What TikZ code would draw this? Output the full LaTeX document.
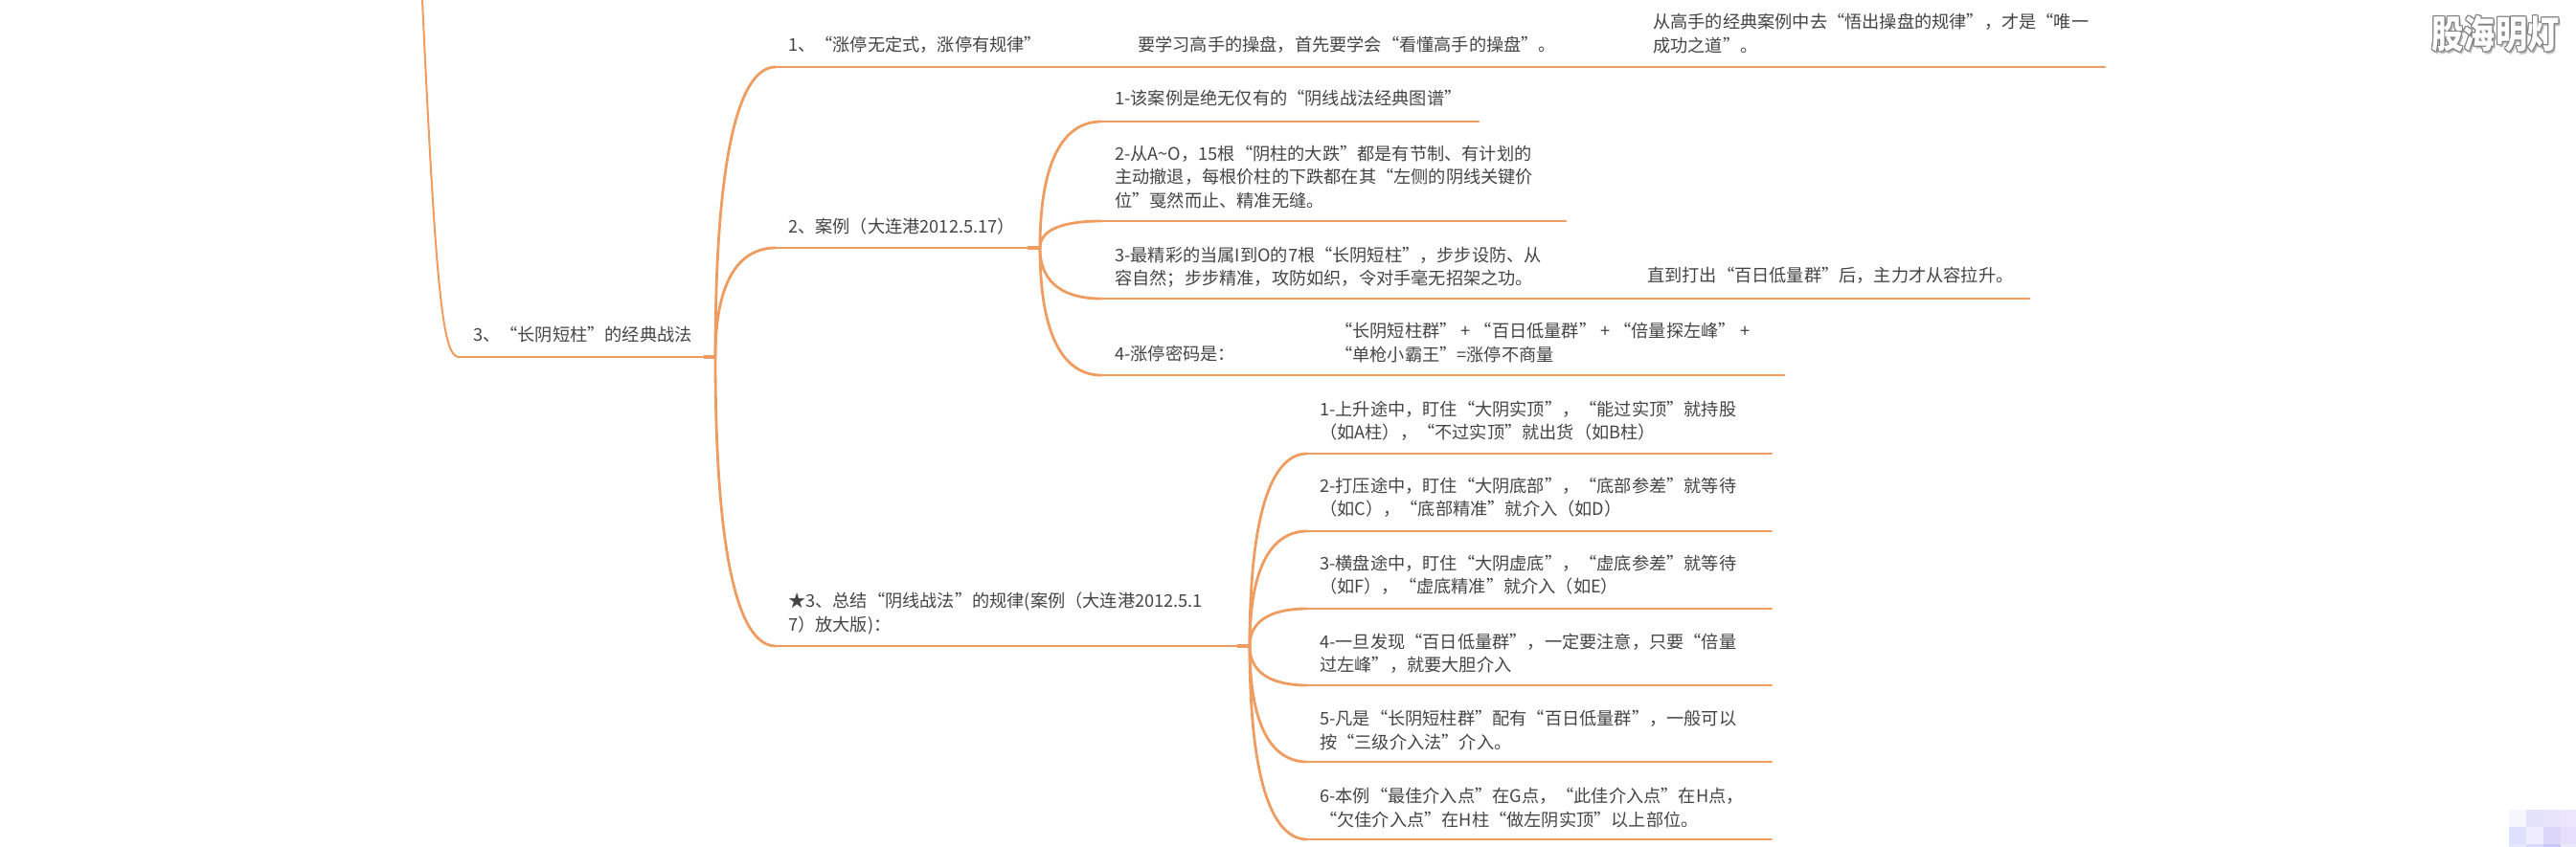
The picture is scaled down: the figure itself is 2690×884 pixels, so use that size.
\documentclass[tikz,border=0pt]{standalone}
\usepackage{fontspec}
\setmainfont{Noto Sans CJK SC}
\usetikzlibrary{calc}
\definecolor{branchcol}{HTML}{EE9C5F}
\definecolor{textcol}{HTML}{444444}
\tikzset{
  twig/.style={draw=branchcol,line width=2.8pt,line cap=round},
  twigcurve/.style={twig,to path={.. controls ($(\tikztostart)!.75!(\tikztostart|-\tikztotarget)$) and ($(\tikztotarget)!.55!(\tikztostart|-\tikztotarget)$) .. (\tikztotarget)}},
  twigtext/.style={anchor=west,inner sep=0pt,align=left,text=textcol,font=\fontsize{18.2}{24.2}\selectfont},
  stamp/.style={inner sep=0pt,xscale=.83,font=\fontsize{40}{40}\selectfont\bfseries}
}
\begin{document}
\begin{tikzpicture}[x=1pt,y=-1pt]
\useasboundingbox (0,0) rectangle (2690,884);
% points of the branches: start, end
\foreach \n/\xx/\yy in {top/441/0,rootA/479/373,rootB/747/373,
  aA/810/70,aB/2198/70,bA/810/259,bB/1086/259,cA/810/675,cB/1305/675,
  dA/1150/127,dB/1544/127,eA/1150/231,eB/1635/231,fA/1150/312,fB/2119/312,gA/1150/392,gB/1863/392,
  hA/1365/474,hB/1850/474,iA/1365/555,iB/1850/555,jA/1365/636,jB/1850/636,
  kA/1365/716,kB/1850/716,lA/1365/796,lB/1850/796,mA/1365/877,mB/1850/877}
  \coordinate (\n) at (\xx,\yy);
\draw[branchcol,line width=2pt] (top) .. controls (455,300) and (462,373) .. (rootA);
% straight part under each text
\foreach \p in {root,a,b,c,d,e,f,g,h,i,j,k,l,m}
  \draw[twig] (\p A) -- (\p B);
% curved part out of each fork
\foreach \f/\t in {rootB/aA,rootB/bA,rootB/cA,bB/dA,bB/eA,bB/fA,bB/gA,cB/hA,cB/iA,cB/jA,cB/kA,cB/lA,cB/mA}
  \draw[twigcurve] (\f) to (\t);
% short thick piece before each fork
\foreach \f/\d in {rootB/-12,bB/-13,cB/-13}
  \draw[branchcol,line width=4pt] (\f) -- ++(\d,0);
% texts
\foreach \n/\xx/\yy/\texto in {
  root/494/350/{3、“长阴短柱”的经典战法},
  one/823/47/{1、“涨停无定式，涨停有规律”},
  two/823/237/{2、案例（大连港2012.5.17）},
  three/823/641/{★3、总结“阴线战法”的规律(案例（大连港2012.5.1\\7）放大版)：},
  study/1188/47/{要学习高手的操盘，首先要学会“看懂高手的操盘”。},
  learn/1726/35/{从高手的经典案例中去“悟出操盘的规律”，才是“唯一\\成功之道”。},
  caseA/1164/103/{1-该案例是绝无仅有的“阴线战法经典图谱”},
  caseB/1164/185/{2-从A\string~O，15根“阴柱的大跌”都是有节制、有计划的\\主动撤退，每根价柱的下跌都在其“左侧的阴线关键价\\位”戛然而止、精准无缝。},
  caseC/1164/279/{3-最精彩的当属I到O的7根“长阴短柱”，步步设防、从\\容自然；步步精准，攻防如织，令对手毫无招架之功。},
  rise/1720/288/{直到打出“百日低量群”后，主力才从容拉升。},
  caseD/1164/369/{4-涨停密码是：},
  code/1394/358/{“长阴短柱群” + “百日低量群” + “倍量探左峰” +\\“单枪小霸王”=涨停不商量},
  ruleA/1378/440/{1-上升途中，盯住“大阴实顶”，“能过实顶”就持股\\（如A柱），“不过实顶”就出货（如B柱）},
  ruleB/1378/520/{2-打压途中，盯住“大阴底部”，“底部参差”就等待\\（如C），“底部精准”就介入（如D）},
  ruleC/1378/601/{3-横盘途中，盯住“大阴虚底”，“虚底参差”就等待\\（如F），“虚底精准”就介入（如E）},
  ruleD/1378/683/{4-一旦发现“百日低量群”，一定要注意，只要“倍量\\过左峰”，就要大胆介入},
  ruleE/1378/763/{5-凡是“长阴短柱群”配有“百日低量群”，一般可以\\按“三级介入法”介入。},
  ruleF/1378/844/{6-本例“最佳介入点”在G点，“此佳介入点”在H点，\\“欠佳介入点”在H柱“做左阴实顶”以上部位。}}
  \node[twigtext] (\n) at (\xx,\yy) {\texto};
% mark, top right
\node[stamp,text=black!25] (markS) at (2608,38) {股海明灯};
\foreach \i/\dx/\dy in {a/-1/0,b/1/0,c/0/-1,d/0/1,e/-1/-1,f/1/-1,g/-1/1,h/1/1}
  \node[stamp,text=black!50] (mark\i) at (2606+\dx,35+\dy) {股海明灯};
\node[stamp,text=white] (mark) at (2606,35) {股海明灯};
% blurred cells, bottom right
\foreach \xx/\yy/\c in {2620/846/F6F6FE,2638/846/E2E2FA,2656/846/E8E4FB,2674/846/EBE6FB,
  2620/864/DFE0FC,2638/864/EEECFE,2656/864/DCD6FB,2674/864/E6DFFB,
  2620/882/E4E6FC,2638/882/D8D8FA,2656/882/C8C6F8,2674/882/ECE8FC}{
  \definecolor{cellcol}{HTML}{\c}
  \fill[cellcol] (\xx,\yy) rectangle ++(18,18);
}
\end{tikzpicture}
\end{document}
